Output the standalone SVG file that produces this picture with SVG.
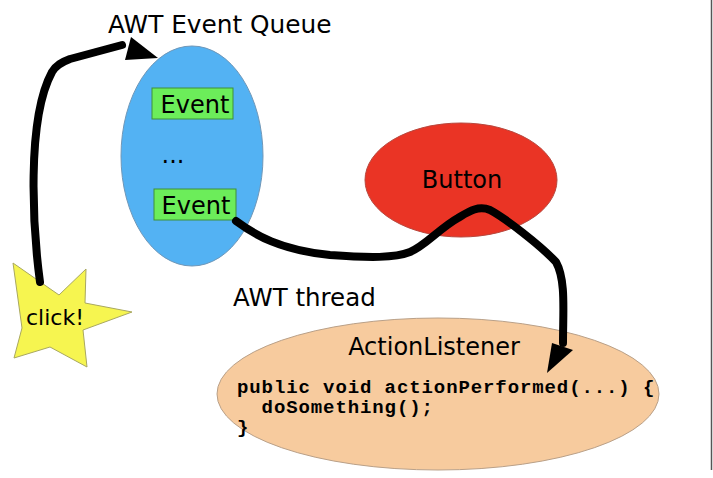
<svg xmlns="http://www.w3.org/2000/svg" width="713" height="478" viewBox="0 0 713 478">
<style>
.lbl{font-family:"DejaVu Sans",sans-serif;font-size:24px;fill:#000}
.code{font-family:"Liberation Mono",monospace;font-size:19px;letter-spacing:0.9px;font-weight:bold;fill:#000}
.wire{fill:none;stroke:#000;stroke-width:8;stroke-linecap:round;stroke-linejoin:round}
</style>
<rect width="713" height="478" fill="#fff"/>
<line x1="711.5" y1="0" x2="711.5" y2="470" stroke="#555" stroke-width="1.5"/>
<g id="queue">
<ellipse cx="192" cy="156" rx="71" ry="110" fill="#53b2f3" stroke="#6f97b8" stroke-width="1"/>
<text class="lbl" x="108" y="33" style="font-size:24.8px">AWT Event Queue</text>
</g>
<g id="event1">
<rect x="152" y="88" width="81" height="31" fill="#6ced5a" stroke="#3f8f3a" stroke-width="1"/>
<text class="lbl" x="195" y="113" text-anchor="middle">Event</text>
</g>
<text class="lbl" x="173" y="163" text-anchor="middle">...</text>
<g id="event2">
<rect x="154" y="189" width="82" height="31" fill="#6ced5a" stroke="#3f8f3a" stroke-width="1"/>
<text class="lbl" x="196" y="214" text-anchor="middle">Event</text>
</g>
<g id="button">
<ellipse cx="461" cy="180" rx="96" ry="57" fill="#ea3425" stroke="#b8473d" stroke-width="1"/>
<text class="lbl" x="462" y="188" text-anchor="middle">Button</text>
</g>
<text class="lbl" x="233" y="306" style="font-size:24.5px">AWT thread</text>
<g id="listener">
<ellipse cx="438" cy="394" rx="221" ry="76" fill="#f7cb9e" stroke="#b9a088" stroke-width="1"/>
<text class="lbl" x="434" y="355" text-anchor="middle">ActionListener</text>
<text class="code" x="237" y="393" xml:space="preserve">public void actionPerformed(...) {</text>
<text class="code" x="237" y="413" xml:space="preserve">  doSomething();</text>
<text class="code" x="237" y="433" xml:space="preserve">}</text>
</g>
<g id="click">
<polygon points="13,263 59,295 86,269 85,303 132,312 83,330 87,367 50,347 14,358 22,328" fill="#f6f550" stroke="#a9a860" stroke-width="1"/>
<text class="lbl" x="26" y="325" style="font-size:22px">click!</text>
</g>
<g id="connectors">
<path class="wire" d="M40,282 C33,230 26,120 52,72 C56,65 62,62 70,59 L122,45"/>
<polygon points="131,37 158,58 125,60" fill="#000"/>
<path class="wire" d="M236,221 C255,235 280,250 330,255 C370,258 395,258 410,252 C425,246 440,228 458,218 C468,212 478,205 490,210 C505,218 540,245 556,262 C566,280 563,310 563,343"/>
<polygon points="552,343 573,350 547,373" fill="#000"/>
</g>
</svg>
